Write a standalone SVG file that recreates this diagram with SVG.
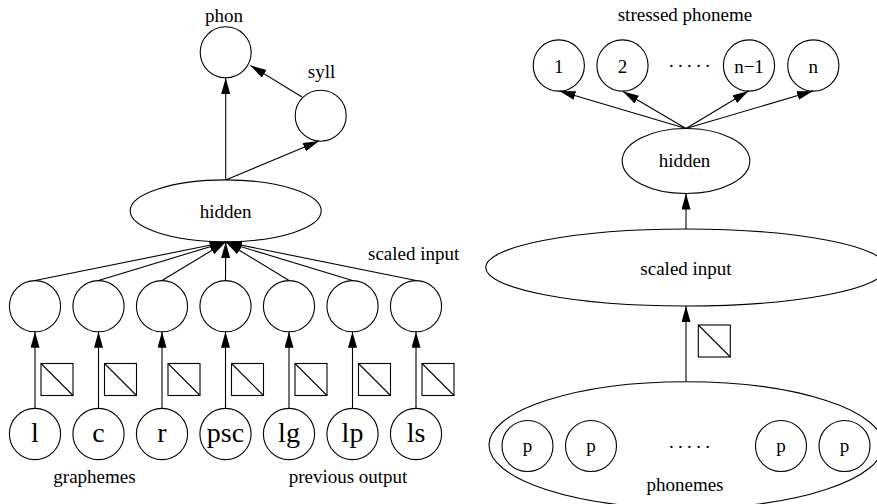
<svg xmlns="http://www.w3.org/2000/svg" width="877" height="504" viewBox="0 0 877 504">
<style>
.n{fill:none;stroke:#000;stroke-width:1.1}
.e{fill:none;stroke:#000;stroke-width:1.1}
.t{font-family:"Liberation Serif","Times New Roman",serif;font-size:19px;fill:#000;text-anchor:middle}
.b{font-family:"Liberation Serif","Times New Roman",serif;font-size:28px;fill:#000;text-anchor:middle}
.d{font-family:"Liberation Serif","Times New Roman",serif;font-size:19px;fill:#000;letter-spacing:4.3px}
</style>
<defs>
<marker id="ah" markerUnits="userSpaceOnUse" markerWidth="17" markerHeight="10" refX="16" refY="4.5" orient="auto">
<path d="M0,0 L16,4.5 L0,9 z" fill="#000"/>
</marker>
<g id="box"><rect x="0" y="0" width="32" height="32" fill="none" stroke="#000" stroke-width="1.1"/><line x1="0" y1="0" x2="32" y2="32" stroke="#000" stroke-width="1.1"/></g>
</defs>
<rect width="877" height="504" fill="#fff"/>

<g id="connectors" stroke="#000" stroke-width="1.1" fill="none" marker-end="url(#ah)">
<line x1="225.7" y1="180" x2="225.7" y2="78"/>
<line x1="225.7" y1="180" x2="319" y2="141"/>
<line x1="302" y1="97" x2="250.5" y2="65.5"/>
<line x1="35" y1="280.5" x2="225.7" y2="242"/>
<line x1="98.5" y1="280.5" x2="225.7" y2="242"/>
<line x1="162" y1="280.5" x2="225.7" y2="242"/>
<line x1="225.5" y1="280.5" x2="225.7" y2="242"/>
<line x1="289" y1="280.5" x2="225.7" y2="242"/>
<line x1="352.5" y1="280.5" x2="225.7" y2="242"/>
<line x1="416" y1="280.5" x2="225.7" y2="242"/>
<line x1="35" y1="408.3" x2="35" y2="331.7"/>
<line x1="98.5" y1="408.3" x2="98.5" y2="331.7"/>
<line x1="162" y1="408.3" x2="162" y2="331.7"/>
<line x1="225.5" y1="408.3" x2="225.5" y2="331.7"/>
<line x1="289" y1="408.3" x2="289" y2="331.7"/>
<line x1="352.5" y1="408.3" x2="352.5" y2="331.7"/>
<line x1="416" y1="408.3" x2="416" y2="331.7"/>
<line x1="686" y1="128.5" x2="559.5" y2="91"/>
<line x1="686" y1="128.5" x2="623" y2="91.5"/>
<line x1="686" y1="128.5" x2="748.5" y2="91"/>
<line x1="686" y1="128.5" x2="813" y2="91"/>
<line x1="686" y1="229" x2="686" y2="193.5"/>
<line x1="686" y1="381.7" x2="686" y2="306"/>
</g>

<g id="boxes">
<use href="#box" x="41" y="363.5"/>
<use href="#box" x="104.5" y="363.5"/>
<use href="#box" x="168" y="363.5"/>
<use href="#box" x="231.5" y="363.5"/>
<use href="#box" x="295" y="363.5"/>
<use href="#box" x="358.5" y="363.5"/>
<use href="#box" x="422" y="363.5"/>
<use href="#box" x="698.3" y="325"/>
</g>

<g id="phon"><circle class="n" cx="225.7" cy="52.3" r="25.5"/><text class="t" x="224" y="21.5">phon</text></g>
<g id="syll"><circle class="n" cx="320.7" cy="115.7" r="25.5"/><text class="t" x="321.5" y="78">syll</text></g>
<g id="hidden-left"><ellipse class="e" cx="225.7" cy="210.8" rx="95.5" ry="30.9"/><text class="t" x="225.7" y="217.5">hidden</text></g>
<text class="t" x="368" y="260" style="text-anchor:start">scaled input</text>

<g id="s1"><circle class="n" cx="35" cy="306.2" r="25.6"/></g>
<g id="s2"><circle class="n" cx="98.5" cy="306.2" r="25.6"/></g>
<g id="s3"><circle class="n" cx="162" cy="306.2" r="25.6"/></g>
<g id="s4"><circle class="n" cx="225.5" cy="306.2" r="25.6"/></g>
<g id="s5"><circle class="n" cx="289" cy="306.2" r="25.6"/></g>
<g id="s6"><circle class="n" cx="352.5" cy="306.2" r="25.6"/></g>
<g id="s7"><circle class="n" cx="416" cy="306.2" r="25.6"/></g>

<g id="i-l"><circle class="n" cx="35" cy="434" r="25.6"/><text class="b" x="35" y="442">l</text></g>
<g id="i-c"><circle class="n" cx="98.5" cy="434" r="25.6"/><text class="b" x="98.5" y="442">c</text></g>
<g id="i-r"><circle class="n" cx="162" cy="434" r="25.6"/><text class="b" x="162" y="442">r</text></g>
<g id="i-psc"><circle class="n" cx="225.5" cy="434" r="25.6"/><text class="b" x="225.5" y="442">psc</text></g>
<g id="i-lg"><circle class="n" cx="289" cy="434" r="25.6"/><text class="b" x="289" y="442">lg</text></g>
<g id="i-lp"><circle class="n" cx="352.5" cy="434" r="25.6"/><text class="b" x="352.5" y="442">lp</text></g>
<g id="i-ls"><circle class="n" cx="416" cy="434" r="25.6"/><text class="b" x="416" y="442">ls</text></g>
<text class="t" x="94.5" y="482.5">graphemes</text>
<text class="t" x="348" y="482.5">previous output</text>

<text class="t" x="685" y="21">stressed phoneme</text>
<g id="o1"><circle class="n" cx="558.8" cy="65.5" r="25.6"/><text class="t" x="558.8" y="72.5">1</text></g>
<g id="o2"><circle class="n" cx="622.5" cy="65.5" r="25.6"/><text class="t" x="622.5" y="72.5">2</text></g>
<text class="d" x="669" y="67">.....</text>
<g id="on1"><circle class="n" cx="749" cy="65.5" r="25.6"/><text class="t" x="749" y="72.5">n−1</text></g>
<g id="on"><circle class="n" cx="813.3" cy="65.5" r="25.6"/><text class="t" x="813.3" y="72.5">n</text></g>
<g id="hidden-right"><ellipse class="e" cx="686" cy="161" rx="63.8" ry="32.5"/><text class="t" x="684.5" y="167">hidden</text></g>
<g id="scaled-right"><ellipse class="e" cx="686" cy="267.5" rx="200.3" ry="38.5"/><text class="t" x="686" y="275">scaled input</text></g>
<g id="phonemes"><ellipse class="e" cx="686" cy="445" rx="197" ry="63.3"/>
<circle class="n" cx="527.5" cy="446" r="25.5"/><text class="t" x="527.5" y="452">p</text>
<circle class="n" cx="591" cy="446" r="25.5"/><text class="t" x="591" y="452">p</text>
<text class="d" x="669" y="447.5">.....</text>
<circle class="n" cx="781" cy="446" r="25.5"/><text class="t" x="781" y="452">p</text>
<circle class="n" cx="844.5" cy="446" r="25.5"/><text class="t" x="844.5" y="452">p</text>
<text class="t" x="685" y="490.5">phonemes</text>
</g>
</svg>
